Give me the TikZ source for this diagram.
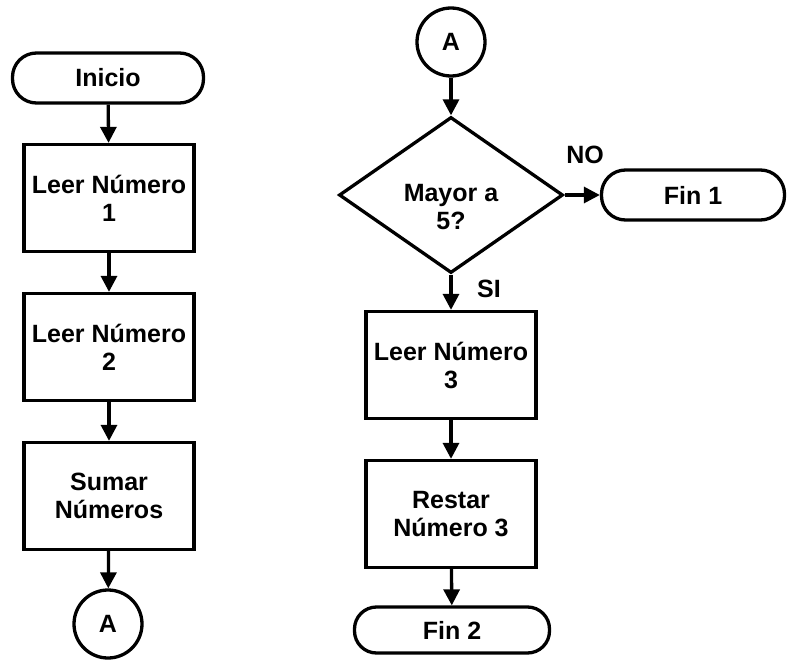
\documentclass[tikz,border=0pt]{standalone}
\usepackage{fontspec}
\setmainfont{Liberation Sans}
\usetikzlibrary{arrows.meta,shapes.geometric}
\begin{document}
\begin{tikzpicture}[x=1pt,y=1pt,
  every node/.style={font=\fontsize{25}{28}\selectfont\bfseries, align=center, inner sep=0pt},
  term/.style={draw, line width=3.3pt, rounded corners=24pt, minimum width=#1, minimum height=50pt},
  proc/.style={draw, line width=3.3pt, minimum width=170pt, minimum height=107pt},
  conn/.style={draw, line width=3.3pt, circle, minimum size=68pt},
  dec/.style={draw, line width=3.3pt, diamond, shape aspect=1.436, minimum width=224pt, minimum height=156pt},
  flow/.style={line width=3.3pt, -{Triangle[length=16pt,width=16pt]}}
]
\useasboundingbox (0,0) rectangle (787,-661);
% left column
\node[term=191pt] (inicio) at (108,-78) {Inicio};
\node[proc] (l1) at (109,-198) {Leer Número\\1};
\node[proc] (l2) at (109,-347) {Leer Número\\2};
\node[proc] (sum) at (109,-496) {Sumar\\Números};
\node[conn] (a1) at (108,-624) {A};
\draw[flow] (inicio) -- (l1);
\draw[flow] (l1) -- (l2);
\draw[flow] (l2) -- (sum);
\draw[flow] (sum) -- (a1);
% right column
\node[conn] (a2) at (451,-42) {A};
\node[dec, label={[yshift=-12pt]center:{Mayor a\\5?}}] (may) at (451,-195) {};
\node[term=183pt] (fin1) at (693,-195) {Fin 1};
\node[proc] (l3) at (451,-365) {Leer Número\\3};
\node[proc] (res) at (451,-514) {Restar\\Número 3};
\node[term=195pt, minimum height=46pt, rounded corners=22pt] (fin2) at (452,-630) {Fin 2};
\draw[flow] (a2) -- (may);
\draw[flow] (may) -- (fin1);
\draw[flow] (may) -- (l3);
\draw[flow] (l3) -- (res);
\draw[flow] (res) -- (fin2);
\node (no) at (585,-155) {NO};
\node (si) at (489,-289) {SI};
\end{tikzpicture}
\end{document}
